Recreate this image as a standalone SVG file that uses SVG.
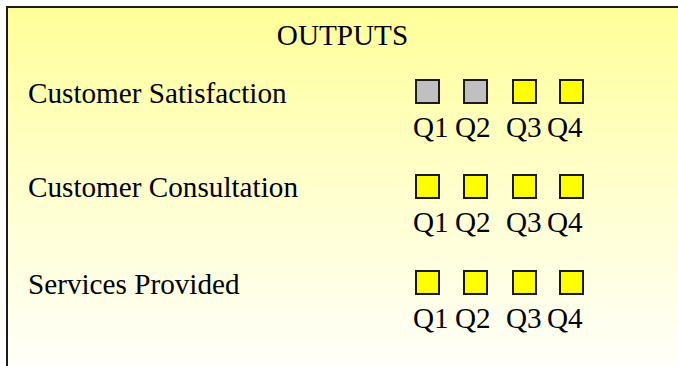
<svg xmlns="http://www.w3.org/2000/svg" width="678" height="366" viewBox="0 0 678 366">
  <defs>
    <linearGradient id="panelFill" gradientUnits="userSpaceOnUse" x1="0" y1="7" x2="0" y2="375">
      <stop offset="0" stop-color="#FFFF99"/>
      <stop offset="0.5" stop-color="#FFFFCF"/>
      <stop offset="1" stop-color="#FFFFFB"/>
    </linearGradient>
    <style>
      .txt { font-family: "Liberation Serif", "Times New Roman", serif; font-size: 29.2px; fill: #000; }
      .box { stroke: #1a1a1a; stroke-width: 2; }
      .off { fill: #C0C0C0; }
      .on { fill: #FFFF00; }
    </style>
  </defs>

  <rect width="678" height="366" fill="#FFFFFF"/>

  <!-- panel: only the top and left edges fall inside the view -->
  <g id="panel">
    <rect x="7" y="7" width="720" height="420" fill="url(#panelFill)" stroke="#1a1a1a" stroke-width="2"/>
    <text class="txt" x="342.5" y="45" text-anchor="middle">OUTPUTS</text>
  </g>

  <g id="customer-satisfaction">
    <text class="txt" x="28" y="103">Customer Satisfaction</text>
    <rect class="box off" x="416" y="80" width="23" height="23"/>
    <rect class="box off" x="464" y="80" width="23" height="23"/>
    <rect class="box on" x="513" y="80" width="23" height="23"/>
    <rect class="box on" x="560" y="80" width="23" height="23"/>
    <text class="txt" x="413" y="137">Q1</text>
    <text class="txt" x="455" y="137">Q2</text>
    <text class="txt" x="506" y="137">Q3</text>
    <text class="txt" x="547" y="137">Q4</text>
  </g>

  <g id="customer-consultation">
    <text class="txt" x="28" y="197">Customer Consultation</text>
    <rect class="box on" x="416" y="175" width="23" height="23"/>
    <rect class="box on" x="464" y="175" width="23" height="23"/>
    <rect class="box on" x="513" y="175" width="23" height="23"/>
    <rect class="box on" x="560" y="175" width="23" height="23"/>
    <text class="txt" x="413" y="232">Q1</text>
    <text class="txt" x="455" y="232">Q2</text>
    <text class="txt" x="506" y="232">Q3</text>
    <text class="txt" x="547" y="232">Q4</text>
  </g>

  <g id="services-provided">
    <text class="txt" x="28" y="294">Services Provided</text>
    <rect class="box on" x="416" y="271" width="23" height="23"/>
    <rect class="box on" x="464" y="271" width="23" height="23"/>
    <rect class="box on" x="513" y="271" width="23" height="23"/>
    <rect class="box on" x="560" y="271" width="23" height="23"/>
    <text class="txt" x="413" y="328">Q1</text>
    <text class="txt" x="455" y="328">Q2</text>
    <text class="txt" x="506" y="328">Q3</text>
    <text class="txt" x="547" y="328">Q4</text>
  </g>

  <g id="connectors"/>
</svg>
